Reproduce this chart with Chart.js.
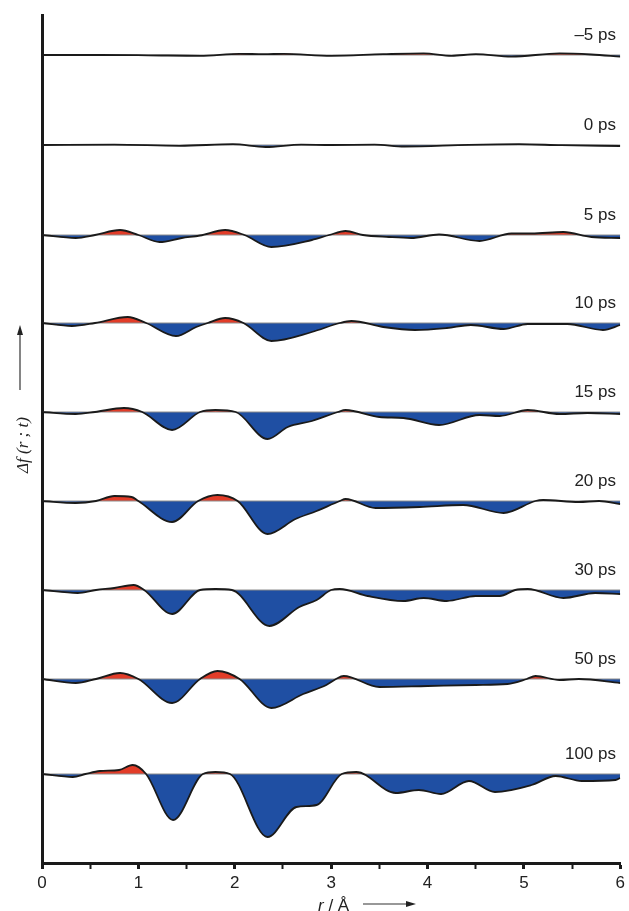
<!DOCTYPE html>
<html>
<head>
<meta charset="utf-8">
<script src="https://cdn.jsdelivr.net/npm/chart.js@4"></script>
<style>
  body { margin: 0; background: #fff; }
</style>
</head>
<body>
<canvas id="chart" width="629" height="911"></canvas>
<script>
// time-resolved difference curves, one trace per delay, stacked with offsets

// delay labels, top to bottom
const DELAYS = ['\u20135 ps', '0 ps', '5 ps', '10 ps', '15 ps', '20 ps', '30 ps', '50 ps', '100 ps'];

// vertical offset of each trace on the y axis (a.u.)
const OFFSETS = [808, 718, 628, 540, 451, 362, 273, 184, 89];

// [r in angstrom, delta f]
const T_M5 = [[0,0],[0.6,0],[1.1,-0.3],[1.64,-0.8],[2.05,1.2],[2.3,0.8],[2.51,1.2],[3.0,-0.8],[3.54,0.8],[3.96,1.6],[4.25,-0.8],[4.5,0.8],[4.87,-1.6],[5.37,1.6],[5.7,0.5],[6,-1.6]];
const T_0 = [[0,0],[0.75,0.4],[1.43,-0.8],[1.98,0.8],[2.32,-2],[2.69,0.4],[3.0,0],[3.45,0.4],[3.76,-1.5],[4.43,0.2],[4.95,0.8],[5.39,-0.2],[6,-1]];
const T_5 = [[0,0],[0.35,-3],[0.55,0],[0.81,5],[1.0,0],[1.22,-7],[1.45,-3],[1.64,-0.5],[1.9,5],[2.1,0],[2.38,-12],[2.8,-5],[2.98,0],[3.15,4],[3.33,0],[3.6,-2],[3.83,-3],[4.12,0.5],[4.54,-6],[4.87,1.5],[5.08,1.5],[5.41,3],[5.7,-2],[6,-3]];
const T_10 = [[0,0],[0.31,-3],[0.55,0],[0.89,6],[1.08,0],[1.39,-13],[1.6,-4],[1.72,0],[1.9,5],[2.09,0],[2.38,-18],[2.8,-9],[3.09,0],[3.21,2],[3.54,-4],[3.87,-7],[4.2,-5],[4.45,-2],[4.79,-6],[5.04,-1],[5.45,-1],[5.82,-7],[6,-2]];
const T_15 = [[0,0],[0.35,-2],[0.55,0],[0.85,4],[1.04,0],[1.35,-18],[1.64,0],[1.8,2],[2.01,0],[2.34,-27],[2.55,-15],[2.8,-9],[3.07,0],[3.15,2],[3.5,-5],[3.75,-6],[4.12,-13],[4.54,-3],[4.75,-4],[5.04,2],[5.37,-2],[5.66,-1],[6,-2]];
const T_20 = [[0,0],[0.35,-2],[0.56,0],[0.75,5],[0.93,4],[1.0,0],[1.35,-21],[1.62,0],[1.82,6],[2.03,0],[2.34,-33],[2.63,-18],[2.85,-10],[3.09,0],[3.15,2],[3.46,-7],[3.92,-6],[4.37,-4],[4.79,-12],[5.12,0],[5.2,1],[5.57,-1],[5.78,0],[6,-3]];
const T_30 = [[0,0],[0.37,-3],[0.56,0],[0.75,2],[0.95,5],[1.06,0],[1.35,-24],[1.64,0],[1.8,1],[1.97,0],[2.36,-36],[2.67,-17],[2.85,-10],[3.0,0],[3.09,1],[3.38,-6],[3.75,-11],[3.96,-8],[4.2,-11],[4.5,-6],[4.75,-6],[4.91,0],[5.04,1],[5.41,-8],[5.74,-3],[6,-4]];
const T_50 = [[0,0],[0.35,-4],[0.56,0],[0.81,6],[1.0,0],[1.35,-24],[1.64,0],[1.82,8],[2.05,0],[2.38,-29],[2.71,-15],[2.95,-6],[3.05,0],[3.13,3],[3.5,-8],[4.0,-7],[4.5,-6],[4.83,-5],[5.03,0],[5.12,3],[5.37,-1],[5.57,0],[6,-4]];
const T_100 = [[0,0],[0.32,-3],[0.45,0],[0.6,3],[0.8,4],[0.94,9],[1.08,0],[1.36,-46],[1.67,0],[1.8,2],[1.95,0],[2.34,-63],[2.64,-33],[2.85,-31],[3.11,0],[3.26,2],[3.67,-19],[3.91,-16],[4.14,-20],[4.43,-7],[4.7,-18],[5.08,-11],[5.33,-2],[5.6,-7],[5.95,-6],[6,-4]];

const TRACES = [T_M5, T_0, T_5, T_10, T_15, T_20, T_30, T_50, T_100];

// x ticks every half angstrom, numbers only on whole ones
const X_TICKS = [0, 0.5, 1, 1.5, 2, 2.5, 3, 3.5, 4, 4.5, 5, 5.5, 6];

const RED = '#e23c28';
const BLUE = '#1f4fa3';
const INK = '#1a1a1a';
const TEXT = '#222';

// build the datasets: baseline + curve for each delay
const datasets = [];
for (let i = 0; i < TRACES.length; i++) {
    datasets.push({
        data: TRACES[i].map(function(p) { return { x: p[0], y: OFFSETS[i] + p[1] }; }),
        borderColor: INK,
        borderWidth: 1.8,
        cubicInterpolationMode: 'monotone',
        fill: { target: { value: OFFSETS[i] }, above: RED, below: BLUE },
        order: 0
    });
    datasets.push({
        data: [{ x: 0, y: OFFSETS[i] }, { x: 6, y: OFFSETS[i] }],
        borderColor: '#8c8c8c',
        borderWidth: 1,
        fill: false,
        order: 1
    });
}

// delay labels and axis titles with their arrows
const labelsPlugin = {
    id: 'labels',
    afterDraw: function(chart) {
        const ctx = chart.ctx;
        const yScale = chart.scales.y;
        ctx.save();
        ctx.fillStyle = TEXT;
        ctx.font = '17px "Liberation Sans", Arial, sans-serif';
        ctx.textAlign = 'right';
        ctx.textBaseline = 'middle';
        for (let i = 0; i < DELAYS.length; i++) {
            ctx.fillText(DELAYS[i], 616, yScale.getPixelForValue(OFFSETS[i]) - 20);
        }

        // y title, rotated
        ctx.save();
        ctx.translate(24, 445);
        ctx.rotate(-Math.PI / 2);
        ctx.textAlign = 'center';
        ctx.font = 'italic 17px "Liberation Serif", serif';
        ctx.fillText('\u0394f (r ; t)', 0, 0);
        ctx.restore();

        // y arrow
        ctx.strokeStyle = '#333';
        ctx.lineWidth = 1.2;
        ctx.beginPath();
        ctx.moveTo(20, 390);
        ctx.lineTo(20, 334);
        ctx.stroke();
        ctx.beginPath();
        ctx.moveTo(20, 325);
        ctx.lineTo(17, 335);
        ctx.lineTo(23, 335);
        ctx.closePath();
        ctx.fill();

        // x title
        ctx.textAlign = 'left';
        ctx.font = 'italic 17px "Liberation Sans", Arial, sans-serif';
        ctx.fillText('r', 318, 906);
        const rw = ctx.measureText('r').width;
        ctx.font = '17px "Liberation Sans", Arial, sans-serif';
        ctx.fillText(' / \u00c5', 318 + rw, 906);

        // x arrow
        ctx.beginPath();
        ctx.moveTo(363, 904);
        ctx.lineTo(408, 904);
        ctx.stroke();
        ctx.beginPath();
        ctx.moveTo(416, 904);
        ctx.lineTo(406, 901);
        ctx.lineTo(406, 907);
        ctx.closePath();
        ctx.fill();
        ctx.restore();
    }
};

new Chart(document.getElementById('chart'), {
    type: 'line',
    data: { datasets: datasets },
    plugins: [labelsPlugin],
    options: {
        responsive: false,
        animation: false,
        layout: { padding: { top: 15, right: 7, left: 0, bottom: 0 } },
        plugins: {
            legend: { display: false },
            tooltip: { enabled: false },
            filler: { drawTime: 'beforeDatasetsDraw' }
        },
        elements: { point: { radius: 0 } },
        scales: {
            x: {
                type: 'linear',
                min: 0,
                max: 6,
                afterBuildTicks: function(scale) {
                    scale.ticks = X_TICKS.map(function(v) { return { value: v }; });
                },
                ticks: {
                    autoSkip: false,
                    maxRotation: 0,
                    padding: 4,
                    color: TEXT,
                    font: { size: 17, family: '"Liberation Sans", Arial, sans-serif' },
                    callback: function(v) { return Number.isInteger(v) ? v : ''; }
                },
                grid: {
                    drawOnChartArea: false,
                    tickLength: 6,
                    tickWidth: function(c) { return Number.isInteger(c.tick.value) ? 3 : 2; },
                    color: INK
                },
                border: { color: INK, width: 3 },
                afterFit: function(scale) { scale.height = 48; }
            },
            y: {
                min: 0,
                max: 848,
                ticks: { display: false },
                grid: { display: false },
                border: { color: INK, width: 3 },
                afterFit: function(scale) { scale.width = 42; }
            }
        }
    }
});
</script>
</body>
</html>
